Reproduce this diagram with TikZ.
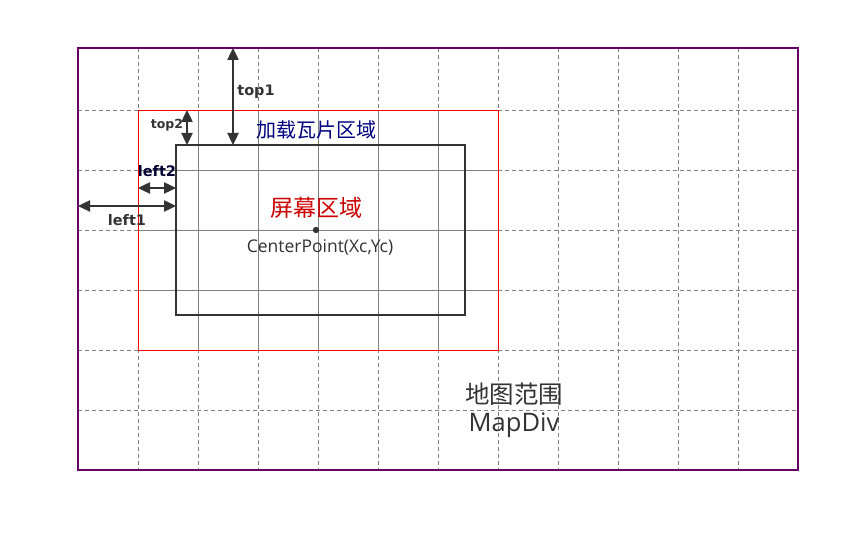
\documentclass[tikz,border=0pt]{standalone}
\usepackage{fontspec}
\usepackage{tikz}
\usepackage{xcolor}
\usetikzlibrary{arrows.meta}
\setmainfont{Open Sans}
\newfontfamily\cjk{Noto Sans CJK SC}
\newfontfamily\labelfont{DejaVu Sans}
\definecolor{mapborder}{RGB}{102,0,102}
\definecolor{inkgray}{RGB}{51,51,51}
\definecolor{tilenavy}{RGB}{0,0,128}
\definecolor{screenred}{RGB}{204,0,0}

\begin{document}
\begin{tikzpicture}[x=1pt, y=-1pt,
    gridline/.style={gray, line width=0.8pt},
    dimarrow/.style={inkgray, line width=2.4pt, {Triangle[length=12pt,width=11pt]}-{Triangle[length=12pt,width=11pt]}},
    dimlabel/.style={inkgray, font=\labelfont\fontsize{14.5}{16}\selectfont\bfseries, inner sep=1pt}]
    \useasboundingbox (0,0) rectangle (859,534);

    % map grid, dashed outside the tile area
    \foreach \x in {138,198,...,738}
        \draw[gridline, dash pattern=on 4pt off 3pt] (\x,48) -- (\x,470);
    \foreach \y in {110,170,...,410}
        \draw[gridline, dash pattern=on 4pt off 3pt] (78,\y) -- (798,\y);

    % tile area, solid grid inside
    \fill[white] (138,110) rectangle (498,350);
    \foreach \x in {198,258,...,438}
        \draw[gridline] (\x,110) -- (\x,350);
    \foreach \y in {170,230,290}
        \draw[gridline] (138,\y) -- (498,\y);
    \draw[red, line width=0.9pt] (138,110) rectangle (498,350);

    % map div border
    \draw[mapborder, line width=2pt] (78,48) rectangle (798,470);

    % screen area
    \draw[inkgray, line width=2pt] (176,145) rectangle (465,315);
    \fill[inkgray] (316,230) circle (3.2pt);

    % named points for the dimension arrows
    \coordinate (maptop) at (233,48);
    \coordinate (screentop) at (233,145);
    \coordinate (tiletop) at (187,110);
    \coordinate (screentopb) at (187,145);
    \coordinate (tileleft) at (138,188);
    \coordinate (screenleft) at (176,188);
    \coordinate (mapleft) at (78,206);
    \coordinate (screenleftb) at (176,206);

    \draw[dimarrow] (maptop) -- (screentop);
    \draw[dimarrow] (tiletop) -- (screentopb);
    \draw[dimarrow] (tileleft) -- (screenleft);
    \draw[dimarrow] (mapleft) -- (screenleftb);

    \node[dimlabel] (top1) at (256,92) {top1};
    \node[dimlabel, font=\labelfont\fontsize{12.5}{14}\selectfont\bfseries] (top2) at (167,125) {top2};
    \node[dimlabel, text=black!80!blue] (left2) at (157,171) {left2};
    \node[dimlabel] (left1) at (127,220) {left1};

    % area names
    \node[tilenavy, font=\cjk\fontsize{20}{22}\selectfont] (tilename) at (316,130) {加载瓦片区域};
    \node[screenred, font=\cjk\fontsize{23}{25}\selectfont] (screenname) at (316,208) {屏幕区域};
    \node[inkgray, font=\fontsize{17.5}{19}\selectfont] (center) at (320,247) {CenterPoint(Xc,Yc)};
    \node[inkgray, font=\cjk\fontsize{24.5}{26}\selectfont] (mapname) at (514,394) {地图范围};
    \node[inkgray, font=\fontsize{25.5}{27}\selectfont] (mapdiv) at (514,425) {MapDiv};
\end{tikzpicture}
\end{document}
